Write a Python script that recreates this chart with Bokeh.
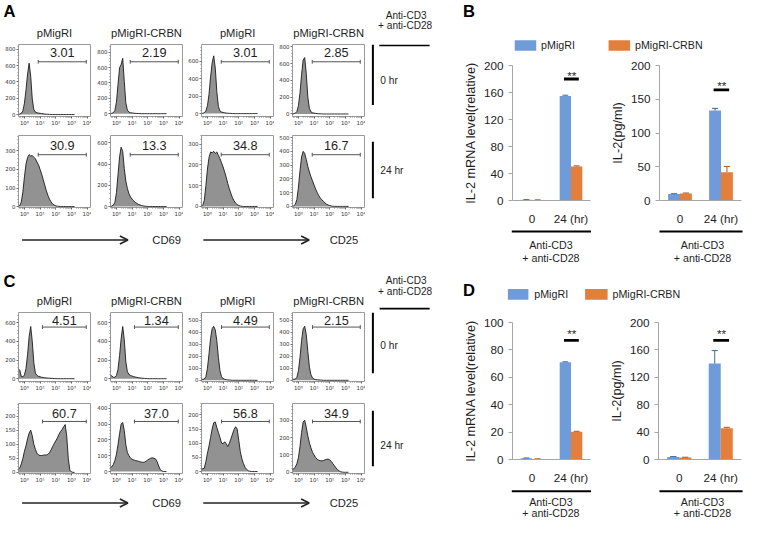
import numpy as np
from bokeh.plotting import figure
from bokeh.layouts import row, column
from bokeh.models import (Range1d, FactorRange, ColumnDataSource, SingleIntervalTicker,
                          FixedTicker, Arrow, OpenHead)
from bokeh.transform import dodge
from bokeh.core.properties import value
from bokeh.embed import file_html
from bokeh.resources import INLINE

# ---------------------------------------------------------------- data
# flow-cytometry histograms: event counts at log10 fluorescence positions
LOG_BINS = [-0.4, -0.3, -0.2, -0.1, 0.0, 0.1, 0.2, 0.3, 0.4, 0.5, 0.6, 0.7, 0.8, 0.9,
            1.0, 1.1, 1.2, 1.3, 1.4, 1.5, 1.6, 1.7, 1.8, 1.9, 2.0, 2.1, 2.2, 2.3, 2.4,
            2.5, 2.6, 2.7, 2.8, 2.9, 3.0, 3.1, 3.2]

A_CD69_0H_CTRL = [0, 5, 15, 45, 140, 300, 500, 630, 470, 190, 60, 30, 22, 18, 15, 12, 9, 6, 4, 3, 2, 1,
                  0, 0, 0, 0, 0, 0, 0, 0, 0, 0, 0, 0, 0, 0, 0]
A_CD69_0H_CRBN = [0, 4, 12, 40, 150, 380, 600, 640, 720, 420, 140, 45, 20, 12, 9, 6, 4, 3, 2, 1,
                  0, 0, 0, 0, 0, 0, 0, 0, 0, 0, 0, 0, 0, 0, 0, 0, 0]
A_CD25_0H_CTRL = [0, 3, 10, 30, 90, 220, 420, 580, 660, 520, 250, 80, 30, 18, 13, 9, 6, 4, 3, 2, 1,
                  0, 0, 0, 0, 0, 0, 0, 0, 0, 0, 0, 0, 0, 0, 0, 0]
A_CD25_0H_CRBN = [0, 3, 10, 30, 100, 250, 470, 640, 670, 480, 200, 65, 25, 14, 10, 7, 5, 3, 2, 1,
                  0, 0, 0, 0, 0, 0, 0, 0, 0, 0, 0, 0, 0, 0, 0, 0, 0]
A_CD69_24H_CTRL = [0, 5, 25, 80, 160, 230, 265, 280, 272, 275, 265, 258, 240, 225, 200, 175, 145, 115,
                   85, 60, 40, 25, 14, 8, 4, 2, 1, 0, 0, 0, 0, 0, 0, 0, 0, 0, 0]
A_CD69_24H_CRBN = [0, 4, 12, 40, 130, 300, 470, 560, 520, 360, 240, 170, 120, 90, 70, 55, 40, 30,
                   21, 15, 10, 6, 4, 2, 1, 0, 0, 0, 0, 0, 0, 0, 0, 0, 0, 0, 0]
A_CD25_24H_CTRL = [0, 5, 30, 100, 180, 235, 262, 258, 265, 255, 262, 245, 230, 210, 190, 165, 140, 110,
                   85, 62, 42, 27, 16, 9, 5, 2, 1, 0, 0, 0, 0, 0, 0, 0, 0, 0, 0]
A_CD25_24H_CRBN = [0, 4, 15, 50, 140, 260, 360, 400, 385, 340, 290, 250, 215, 185, 155, 125, 100, 78,
                   60, 48, 36, 25, 16, 10, 6, 3, 1, 0, 0, 0, 0, 0, 0, 0, 0, 0, 0]

C_CD69_0H_CTRL = [110, 90, 25, 20, 40, 110, 260, 450, 560, 400, 170, 60, 35, 25, 20, 16, 13, 10, 8, 6,
                  5, 4, 3, 2, 1, 0, 0, 0, 0, 0, 0, 0, 0, 0, 0, 0, 0]
C_CD69_0H_CRBN = [40, 30, 15, 15, 35, 100, 250, 430, 560, 420, 180, 75, 45, 35, 28, 22, 18, 14, 11, 8,
                  6, 4, 3, 2, 1, 0, 0, 0, 0, 0, 0, 0, 0, 0, 0, 0, 0]
C_CD25_0H_CTRL = [10, 8, 10, 30, 100, 220, 350, 430, 450, 420, 330, 190, 80, 30, 14, 8, 5, 3, 2, 1,
                  0, 0, 0, 0, 0, 0, 0, 0, 0, 0, 0, 0, 0, 0, 0, 0, 0]
C_CD25_0H_CRBN = [10, 8, 10, 25, 80, 190, 330, 430, 450, 380, 240, 110, 45, 20, 10, 6, 4, 3, 2, 1,
                  0, 0, 0, 0, 0, 0, 0, 0, 0, 0, 0, 0, 0, 0, 0, 0, 0]
C_CD69_24H_CTRL = [10, 15, 30, 50, 75, 95, 120, 140, 150, 130, 100, 82, 68, 62, 60, 60, 61, 62, 62, 64,
                   70, 80, 92, 102, 112, 122, 135, 145, 152, 162, 170, 130, 50, 8, 2, 0, 0]
C_CD69_24H_CRBN = [25, 30, 45, 70, 110, 170, 240, 300, 310, 260, 170, 120, 100, 85, 78, 74, 70, 68, 66, 62,
                   60, 58, 60, 66, 74, 80, 85, 87, 84, 80, 62, 35, 12, 4, 1, 0, 0]
C_CD25_24H_CTRL = [8, 10, 12, 35, 65, 90, 120, 150, 172, 175, 155, 138, 120, 100, 98, 105, 98, 88, 100, 115,
                   132, 148, 158, 150, 110, 70, 45, 28, 15, 8, 3, 1, 0, 0, 0, 0, 0]
C_CD25_24H_CRBN = [15, 20, 30, 50, 85, 150, 230, 290, 300, 260, 210, 170, 140, 115, 100, 85, 75, 70, 67, 66,
                   68, 72, 75, 76, 72, 62, 50, 38, 25, 15, 8, 3, 1, 0, 0, 0, 0]

# gate percentages (left to right within each row)
A_PCT_0H = ["3.01", "2.19", "3.01", "2.85"]
A_PCT_24H = ["30.9", "13.3", "34.8", "16.7"]
C_PCT_0H = ["4.51", "1.34", "4.49", "2.15"]
C_PCT_24H = ["60.7", "37.0", "56.8", "34.9"]
A_GATE_START = [0.88, 0.88, 0.88, 0.88]
C_GATE_START = [1.15, 1.15, 0.9, 0.9]
GATE_END = 3.95

HIST_TITLES = ["pMigRI", "pMigRI-CRBN", "pMigRI", "pMigRI-CRBN"]
MARKERS = ["CD69", "CD25"]
X_TICK_LABELS = {0: "10⁰", 1: "10¹", 2: "10²", 3: "10³", 4: "10⁴"}

# bar charts
CATS = ["0", "24 (hr)"]
SERIES = ["pMigRI", "pMigRI-CRBN"]
B_MRNA_CTRL = [1.0, 155.0]
B_MRNA_CTRL_ERR = [0.3, 1.0]
B_MRNA_CRBN = [0.8, 50.5]
B_MRNA_CRBN_ERR = [0.2, 0.8]
B_IL2_CTRL = [9.5, 133.5]
B_IL2_CTRL_ERR = [0.6, 3.0]
B_IL2_CRBN = [10.5, 42.0]
B_IL2_CRBN_ERR = [0.6, 8.5]
D_MRNA_CTRL = [0.9, 71.0]
D_MRNA_CTRL_ERR = [0.2, 0.3]
D_MRNA_CRBN = [0.4, 20.3]
D_MRNA_CRBN_ERR = [0.1, 0.3]
D_IL2_CTRL = [3.8, 140.0]
D_IL2_CTRL_ERR = [0.5, 19.0]
D_IL2_CRBN = [2.8, 45.5]
D_IL2_CRBN_ERR = [0.5, 1.5]
# significance: bar level, star level
B_MRNA_SIG = [180, 185.5]
B_IL2_SIG = [164, 171]
D_MRNA_SIG = [87, 92]
D_IL2_SIG = [174, 183.5]

for arr in [A_CD69_0H_CTRL, A_CD69_0H_CRBN, A_CD25_0H_CTRL, A_CD25_0H_CRBN,
            A_CD69_24H_CTRL, A_CD69_24H_CRBN, A_CD25_24H_CTRL, A_CD25_24H_CRBN,
            C_CD69_0H_CTRL, C_CD69_0H_CRBN, C_CD25_0H_CTRL, C_CD25_0H_CRBN,
            C_CD69_24H_CTRL, C_CD69_24H_CRBN, C_CD25_24H_CTRL, C_CD25_24H_CRBN]:
    assert len(arr) == len(LOG_BINS)

# ---------------------------------------------------------------- style helpers
SX = 744 / 760
SY = 520 / 536
SF = 0.975
FONT = "Liberation Sans"
BLUE, BLUE_D = "#6f9cd9", "#3f6a9c"
ORANGE, ORANGE_D = "#e37e3b", "#a8561f"
HIST_FILL = "#929292"
TXT = "#1e1e1e"
XLO, XHI = -0.38, 4.22


def X(v):
    return int(round(v * SX))


def Y(v):
    return int(round(v * SY))


def fs(v):
    return "%.1fpx" % (v * SF)


def base_fig(x0, x1, y0, y1, **kw):
    return figure(width=X(x1) - X(x0), height=Y(y1) - Y(y0), toolbar_location=None,
                  output_backend="svg", **kw)


def canvas(x0, x1, y0, y1):
    p = base_fig(x0, x1, y0, y1, x_range=Range1d(x0, x1), y_range=Range1d(y1, y0),
                 x_axis_type=None, y_axis_type=None, min_border=0)
    p.outline_line_color = None
    return p


def txt(p, x, y, s, size, align="left", bold=False, color=TXT, baseline="middle"):
    p.text(x=[x], y=[y], text=[s], text_font=value(FONT), text_font_size=fs(size),
           text_align=align, text_baseline=baseline, text_color=color,
           text_font_style="bold" if bold else "normal")


MINOR_X = [k + float(np.log10(m)) for k in range(-1, 4) for m in range(2, 10)]


def hist_fig(bx, fx, by, fy, counts, yr, ytick, pct, gate0, offs):
    (x0, x1), (fx0, fx1), (y0, y1), (fy0, fy1) = bx, fx, by, fy
    p = base_fig(x0, x1, y0, y1, x_range=Range1d(XLO, XHI), y_range=Range1d(*yr),
                 min_border_left=X(fx0) - X(x0), min_border_right=X(x1) - X(fx1),
                 min_border_top=Y(fy0) - Y(y0), min_border_bottom=Y(y1) - Y(fy1))
    p.varea(x=LOG_BINS, y1=0, y2=counts, fill_color=HIST_FILL)
    p.line(x=LOG_BINS, y=counts, line_color="#1a1a1a", line_width=0.9)
    fh = fy1 - fy0
    span = yr[1] - yr[0]
    yt = yr[1] - offs[0] / fh * span
    yb = yr[1] - offs[1] / fh * span
    tk = 2.0 / fh * span
    p.segment(x0=[gate0, gate0, GATE_END], y0=[yb, yb - tk, yb - tk],
              x1=[GATE_END, gate0, GATE_END], y1=[yb, yb + tk, yb + tk],
              line_color="#555555", line_width=1)
    p.text(x=[(gate0 + GATE_END) / 2], y=[yt], text=[pct], text_font=value(FONT),
           text_font_size=fs(13), text_align="center", text_baseline="middle",
           text_color=TXT)
    p.grid.visible = False
    p.outline_line_color = "#9a9a9a"
    p.xaxis.ticker = FixedTicker(ticks=[0, 1, 2, 3, 4], minor_ticks=MINOR_X)
    p.xaxis.major_label_overrides = X_TICK_LABELS
    p.yaxis.ticker = SingleIntervalTicker(interval=ytick, num_minor_ticks=5)
    for ax in (p.xaxis, p.yaxis):
        ax.axis_line_color = None
        ax.major_label_text_font_size = fs(5.5)
        ax.major_label_text_color = "#333333"
        ax.major_label_text_font = "DejaVu Sans"
        ax.major_label_standoff = 1
        ax.major_tick_out = 2
        ax.major_tick_in = 0
        ax.minor_tick_out = 1
        ax.minor_tick_in = 0
        ax.major_tick_line_color = "#666666"
        ax.minor_tick_line_color = "#888888"
    return p


def row_label(y0, y1, bar0, bar1, label, label_y, hline_y=None):
    p = canvas(373, 445, y0, y1)
    p.segment(x0=[380.5], y0=[bar0], x1=[380.5], y1=[bar1], line_color="black", line_width=2)
    txt(p, 388, label_y, label, 10.5)
    if hline_y is not None:
        p.segment(x0=[387], y0=[hline_y], x1=[438], y1=[hline_y], line_color="black", line_width=1.6)
    return p


FIG_X = [(0, 93), (93, 187), (187, 280), (280, 373)]
FRAME_X = [(18, 92), (112, 186), (205, 279), (298, 372)]


def hist_row(by, fy, datas, yrs, yticks, pcts, gates, offs, label, label_y, bar, hline_y=None):
    figs = []
    for i in range(4):
        figs.append(hist_fig(FIG_X[i], FRAME_X[i], by, fy, datas[i], yrs[i], yticks[i],
                             pcts[i], gates[i], offs))
    figs.append(row_label(by[0], by[1], bar[0], bar[1], label, label_y, hline_y))
    return row(*figs)


def header(y0, y1, letter, letter_y, title_y, stim_y=None, hline_y=None):
    p = canvas(0, 445, y0, y1)
    txt(p, 3, letter_y, letter, 17, bold=True, color="black")
    for (fx0, fx1), t in zip(FRAME_X, HIST_TITLES):
        txt(p, (fx0 + fx1) / 2, title_y, t, 11.5, align="center")
    if stim_y is not None:
        txt(p, 414, stim_y[0], "Anti-CD3", 10.4, align="center")
        txt(p, 413, stim_y[1], "+ anti-CD28", 10.4, align="center")
    if hline_y is not None:
        p.segment(x0=[387], y0=[hline_y], x1=[438], y1=[hline_y], line_color="black", line_width=1.6)
    return p


def arrows_band(y0, y1, ay):
    p = canvas(0, 445, y0, y1)
    for (ax0, ax1), tx, m in zip([(22, 130), (207, 315)], [155, 336], MARKERS):
        p.add_layout(Arrow(end=OpenHead(size=8, line_width=1.6, line_color="#222222"),
                           x_start=ax0, y_start=ay, x_end=ax1, y_end=ay,
                           line_width=1.6, line_color="#222222"))
        txt(p, tx, ay, m, 11.5)
    return p


def bar_fig(bx, fx, by, fy, ctrl, ctrl_err, crbn, crbn_err, ymax, ytick, ylabel, sig):
    (x0, x1), (fx0, fx1), (y0, y1), (fy0, fy1) = bx, fx, by, fy
    p = base_fig(x0, x1, y0, y1, x_range=FactorRange(*CATS), y_range=Range1d(0, ymax),
                 min_border_left=X(fx0) - X(x0), min_border_right=X(x1) - X(fx1),
                 min_border_top=Y(fy0) - Y(y0), min_border_bottom=Y(y1) - Y(fy1))
    src = ColumnDataSource(dict(
        cat=CATS, ctrl=ctrl, crbn=crbn,
        ctrl_hi=[v + e for v, e in zip(ctrl, ctrl_err)],
        crbn_hi=[v + e for v, e in zip(crbn, crbn_err)]))
    bw, off, cap = 0.29, 0.145, 0.075
    for o, top, hi, col, dcol in [(-off, "ctrl", "ctrl_hi", BLUE, BLUE_D),
                                  (off, "crbn", "crbn_hi", ORANGE, ORANGE_D)]:
        p.vbar(x=dodge("cat", o, range=p.x_range), top=top, width=bw, source=src,
               fill_color=col, line_color=None)
        p.segment(x0=dodge("cat", o, range=p.x_range), y0=top,
                  x1=dodge("cat", o, range=p.x_range), y1=hi, source=src,
                  line_color=dcol, line_width=1)
        p.segment(x0=dodge("cat", o - cap, range=p.x_range), y0=hi,
                  x1=dodge("cat", o + cap, range=p.x_range), y1=hi, source=src,
                  line_color=dcol, line_width=1)
    ssrc = ColumnDataSource(dict(cat=[CATS[1]], ly=[sig[0]], ty=[sig[1]], t=["**"]))
    p.segment(x0=dodge("cat", -0.18, range=p.x_range), y0="ly",
              x1=dodge("cat", 0.2, range=p.x_range), y1="ly", source=ssrc,
              line_color="black", line_width=2.8)
    p.text(x=dodge("cat", 0.02, range=p.x_range), y="ty", text="t", source=ssrc,
           text_font=value(FONT), text_font_size=fs(12), text_align="center",
           text_baseline="middle", text_color=TXT)
    p.grid.visible = False
    p.outline_line_color = None
    p.yaxis.ticker = SingleIntervalTicker(interval=ytick, num_minor_ticks=0)
    p.yaxis.axis_label = ylabel
    p.yaxis.axis_label_text_font = FONT
    p.yaxis.axis_label_text_font_size = fs(13)
    p.yaxis.axis_label_text_font_style = "normal"
    p.yaxis.axis_label_text_color = TXT
    p.yaxis.axis_label_standoff = 3
    for ax in (p.xaxis, p.yaxis):
        ax.axis_line_color = "#a6a6a6"
        ax.major_label_text_font = FONT
        ax.major_label_text_font_size = fs(12)
        ax.major_label_text_color = TXT
        ax.minor_tick_line_color = None
    p.yaxis.major_tick_out = 4
    p.yaxis.major_tick_in = 0
    p.yaxis.major_tick_line_color = "#a6a6a6"
    p.yaxis.major_label_standoff = 5
    p.xaxis.major_tick_line_color = None
    p.xaxis.major_label_standoff = 5
    return p


def legend_band(y0, y1, letter, letter_y, sw, ly):
    p = canvas(445, 760, y0, y1)
    txt(p, 472, letter_y, letter, 17, bold=True, color="black")
    for (l, r, tx), col, name in zip(sw, [BLUE, ORANGE], SERIES):
        p.quad(left=[l], right=[r], top=[ly - 5.5], bottom=[ly + 5.5], fill_color=col, line_color=None)
        txt(p, tx, ly, name, 11)
    return p


def stim_band(y0, y1, uy, t1, t2):
    p = canvas(445, 760, y0, y1)
    for (l, r), cx in zip([(522, 603), (673, 758)], [562, 717]):
        p.segment(x0=[l], y0=[uy], x1=[r], y1=[uy], line_color="black", line_width=2)
        txt(p, cx, t1, "Anti-CD3", 11, align="center")
        txt(p, cx, t2, "+ anti-CD28", 11, align="center")
    return p


# ---------------------------------------------------------------- left column (A, C)
A0 = header(0, 45, "A", 11, 33, stim_y=(15, 26))
A1 = hist_row((45, 132), (45, 120),
              [A_CD69_0H_CTRL, A_CD69_0H_CRBN, A_CD25_0H_CTRL, A_CD25_0H_CRBN],
              [(-24, 860), (-37, 900), (-33, 790), (-30, 826)], [200, 200, 200, 200],
              A_PCT_0H, A_GATE_START, (8, 18), "0 hr", 88, (45, 118), hline_y=46)
A2 = hist_row((132, 226), (139, 214),
              [A_CD69_24H_CTRL, A_CD69_24H_CRBN, A_CD25_24H_CTRL, A_CD25_24H_CRBN],
              [(-5, 383), (-9, 670), (-5, 341), (-8, 515)], [100, 200, 100, 100],
              A_PCT_24H, A_GATE_START, (10, 20), "24 hr", 178, (140, 214))
A3 = arrows_band(226, 270, 247)
C0 = header(270, 322, "C", 290, 310, stim_y=(289, 300), hline_y=318)
C1 = hist_row((322, 405), (322, 393),
              [C_CD69_0H_CTRL, C_CD69_0H_CRBN, C_CD25_0H_CTRL, C_CD25_0H_CRBN],
              [(-30, 710), (-30, 710), (-10, 565), (-10, 565)], [200, 200, 100, 100],
              C_PCT_0H, C_GATE_START, (8, 15), "0 hr", 362, (322, 395))
C2 = hist_row((405, 500), (415, 489),
              [C_CD69_24H_CTRL, C_CD69_24H_CRBN, C_CD25_24H_CTRL, C_CD25_24H_CRBN],
              [(-4, 245), (-12, 430), (-7, 240), (-7, 397)], [50, 100, 50, 100],
              C_PCT_24H, C_GATE_START, (11, 19), "24 hr", 462, (415, 490))
C3 = arrows_band(500, 536, 518)
left_col = column(A0, A1, A2, A3, C0, C1, C2, C3)

# ---------------------------------------------------------------- right column (B, D)
B0 = legend_band(0, 60, "B", 11, [(525, 547, 552), (621, 643, 648)], 46.5)
B1 = row(bar_fig((445, 613), (523, 603), (60, 234), (67, 217),
                 B_MRNA_CTRL, B_MRNA_CTRL_ERR, B_MRNA_CRBN, B_MRNA_CRBN_ERR,
                 200, 40, "IL-2 mRNA level(relative)", B_MRNA_SIG),
         bar_fig((613, 760), (673, 757), (60, 234), (67, 217),
                 B_IL2_CTRL, B_IL2_CTRL_ERR, B_IL2_CRBN, B_IL2_CRBN_ERR,
                 200, 50, "IL-2(pg/ml)", B_IL2_SIG))
B2 = stim_band(234, 274, 238, 252, 265)
D0 = legend_band(274, 325, "D", 299, [(518, 539, 545), (597, 620, 625)], 303)
D1 = row(bar_fig((445, 613), (523, 603), (325, 501), (332, 482),
                 D_MRNA_CTRL, D_MRNA_CTRL_ERR, D_MRNA_CRBN, D_MRNA_CRBN_ERR,
                 100, 20, "IL-2 mRNA level(relative)", D_MRNA_SIG),
         bar_fig((613, 760), (672, 757), (325, 501), (332, 482),
                 D_IL2_CTRL, D_IL2_CTRL_ERR, D_IL2_CRBN, D_IL2_CRBN_ERR,
                 200, 40, "IL-2(pg/ml)", D_IL2_SIG))
D2 = stim_band(501, 536, 506, 517, 528.5)
right_col = column(B0, B1, B2, D0, D1, D2)

layout = row(left_col, right_col)
open("out.html", "w").write(file_html(layout, INLINE, title="CRBN IL-2"))
